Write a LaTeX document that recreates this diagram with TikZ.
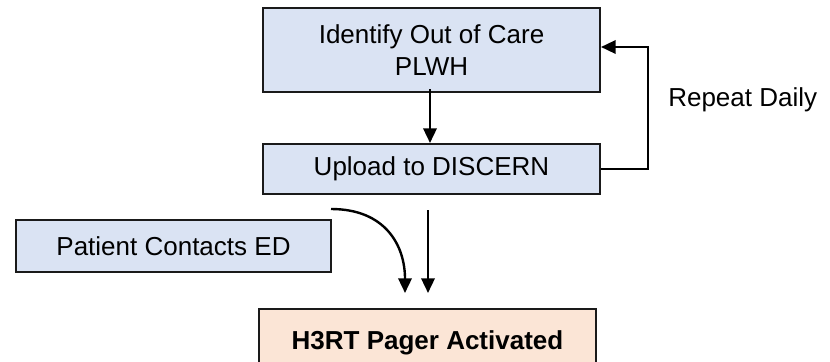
\documentclass[tikz,border=0pt]{standalone}
\usepackage{fontspec}
\setmainfont{Liberation Sans}
\usetikzlibrary{arrows.meta}
\definecolor{boxblue}{HTML}{DAE3F3}
\definecolor{boxpeach}{HTML}{FBE5D6}
\definecolor{edge}{HTML}{1A1A1A}
\tikzset{
  flowbox/.style={draw=edge, line width=1.5pt, fill=boxblue, inner sep=0pt, align=center,
    font=\fontsize{19.5}{24.5}\selectfont, text=black},
  arr/.style={line width=1.8pt, draw=black, -{Triangle[length=11pt,width=10pt]}},
  lbl/.style={font=\fontsize{19.5}{24.5}\selectfont, text=black, anchor=west, inner sep=0pt}
}
\begin{document}
\begin{tikzpicture}[x=0.75pt,y=-0.75pt]
\useasboundingbox (0,0) rectangle (830,361);
\clip (0,0) rectangle (830,361);
\node[flowbox, minimum width=252.75pt, minimum height=63pt] (b1) at (431.5,50) {Identify Out of Care\\PLWH};
\node[flowbox, minimum width=252.75pt, minimum height=37.5pt] (b2) at (431.5,169) {Upload to DISCERN};
\node[flowbox, minimum width=236.25pt, minimum height=39pt] (pc) at (173.5,246) {Patient Contacts ED};
\node[flowbox, fill=boxpeach, minimum width=252.75pt, minimum height=51pt, font=\fontsize{19.5}{24.5}\selectfont\bfseries] (h3) at (427.5,343) {H3RT Pager Activated};
\node[lbl] (rd) at (668,100) {Repeat Daily};
\coordinate (c1s) at (331,209);
\coordinate (c1e) at (405,293);
\coordinate (c2s) at (428,210);
\coordinate (c2e) at (428,293);
\coordinate (loopx) at (648,0);
\draw[arr] (b1.south -| 430,0) ++(0,-4) -- (b2.north -| 430,0);
\draw[arr] (b2.east) -- (b2.east -| loopx) |- (b1.east |- 0,47);
\draw[arr] (c1s) .. controls (385,209) and (405,245) .. (c1e);
\draw[arr] (c2s) -- (c2e);
\end{tikzpicture}
\end{document}
